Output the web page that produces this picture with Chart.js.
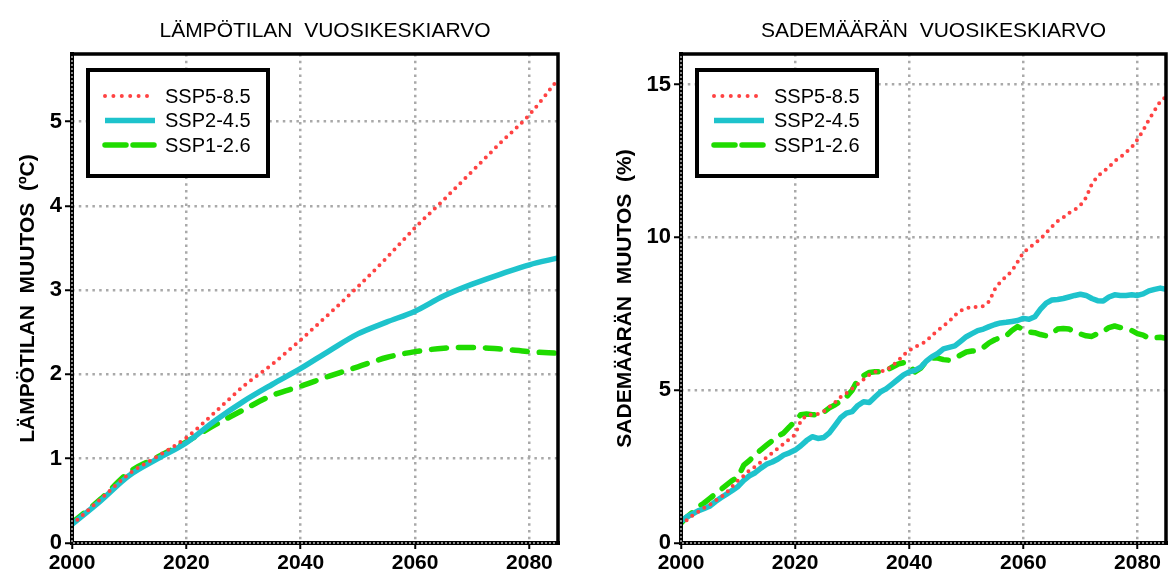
<!DOCTYPE html>
<html>
<head>
<meta charset="utf-8">
<script src="https://cdn.jsdelivr.net/npm/chart.js@4/dist/chart.umd.min.js"></script>
<style>
  html, body { margin: 0; padding: 0; background: #fff; }
  #wrap { display: flex; width: 1172px; height: 578px; }
  .panel { width: 586px; height: 578px; }
</style>
</head>
<body>
<div id="wrap">
  <div class="panel"><canvas id="tempChart" width="586" height="578"></canvas></div>
  <div class="panel"><canvas id="precChart" width="586" height="578"></canvas></div>
</div>
<script>
// Scenario names and colours
const scenarioLabels = ['SSP5-8.5', 'SSP2-4.5', 'SSP1-2.6'];
const scenarioColors = ['#ff4242', '#1ec3cc', '#1fdb00'];

// Annual mean temperature change (°C), every 5 years
const tempYears = [2000, 2005, 2010, 2015, 2020, 2025, 2030, 2035, 2040, 2045, 2050, 2055, 2060, 2065, 2070, 2075, 2080, 2085];
const tempSSP585 = [0.22, 0.52, 0.82, 1.03, 1.25, 1.55, 1.86, 2.12, 2.41, 2.72, 3.04, 3.38, 3.74, 4.07, 4.41, 4.75, 5.08, 5.50];
const tempSSP245 = [0.22, 0.50, 0.80, 1.00, 1.19, 1.45, 1.68, 1.88, 2.07, 2.28, 2.48, 2.62, 2.75, 2.93, 3.07, 3.19, 3.30, 3.38];
const tempSSP126 = [0.24, 0.52, 0.84, 1.02, 1.20, 1.40, 1.58, 1.75, 1.86, 1.98, 2.09, 2.20, 2.27, 2.31, 2.32, 2.30, 2.27, 2.25];

// Annual mean precipitation change (%), yearly 2000-2085
const precYears = Array.from({ length: 86 }, (_, i) => 2000 + i);
const precSSP585 = [
  0.60, 0.75, 0.90, 1.02, 1.14, 1.25, 1.38, 1.50, 1.65, 1.85,
  2.05, 2.20, 2.38, 2.50, 2.65, 2.80, 2.95, 3.10, 3.25, 3.40,
  3.55, 4.00, 4.18, 4.20, 4.22, 4.30, 4.45, 4.60, 4.78, 4.90,
  5.05, 5.20, 5.35, 5.50, 5.60, 5.62, 5.65, 5.80, 5.95, 6.15,
  6.30, 6.42, 6.50, 6.60, 6.80, 6.95, 7.10, 7.25, 7.45, 7.60,
  7.68, 7.72, 7.72, 7.75, 7.90, 8.30, 8.55, 8.72, 8.90, 9.20,
  9.50, 9.65, 9.80, 9.95, 10.15, 10.35, 10.53, 10.65, 10.80, 10.90,
  11.05, 11.30, 11.75, 12.00, 12.15, 12.30, 12.50, 12.62, 12.78, 12.95,
  13.20, 13.50, 13.85, 14.15, 14.45, 14.60
];
const precSSP245 = [
  0.71, 0.85, 0.95, 1.05, 1.12, 1.20, 1.35, 1.48, 1.60, 1.72,
  1.85, 2.05, 2.20, 2.30, 2.45, 2.58, 2.65, 2.75, 2.88, 2.95,
  3.04, 3.18, 3.35, 3.48, 3.42, 3.45, 3.60, 3.85, 4.10, 4.25,
  4.30, 4.50, 4.62, 4.60, 4.78, 4.95, 5.05, 5.20, 5.35, 5.50,
  5.60, 5.65, 5.75, 5.95, 6.10, 6.20, 6.35, 6.40, 6.45, 6.60,
  6.75, 6.85, 6.95, 7.00, 7.08, 7.15, 7.20, 7.22, 7.25, 7.28,
  7.35, 7.32, 7.40, 7.65, 7.85, 7.95, 7.97, 8.00, 8.05, 8.10,
  8.14, 8.10, 8.00, 7.93, 7.92, 8.05, 8.12, 8.10, 8.10, 8.12,
  8.10, 8.15, 8.25, 8.30, 8.34, 8.30
];
const precSSP126 = [
  0.65, 0.85, 1.00, 1.18, 1.30, 1.45, 1.60, 1.75, 1.90, 2.05,
  2.15, 2.55, 2.70, 2.88, 3.05, 3.20, 3.35, 3.50, 3.60, 3.80,
  3.98, 4.20, 4.22, 4.20, 4.18, 4.28, 4.42, 4.52, 4.65, 4.78,
  5.00, 5.35, 5.48, 5.58, 5.60, 5.60, 5.65, 5.75, 5.85, 5.90,
  5.82, 5.60, 5.72, 5.95, 6.05, 6.05, 6.00, 5.98, 6.05, 6.15,
  6.25, 6.28, 6.30, 6.40, 6.55, 6.65, 6.72, 6.78, 6.95, 7.08,
  6.98, 6.90, 6.88, 6.82, 6.78, 6.85, 7.00, 7.02, 7.00, 6.92,
  6.84, 6.78, 6.76, 6.85, 6.92, 7.05, 7.10, 7.05, 7.00, 6.95,
  6.85, 6.80, 6.70, 6.72, 6.73, 6.70
];

// Axis ticks
const yearTicks = [2000, 2020, 2040, 2060, 2080];
const tempTicks = [0, 1, 2, 3, 4, 5];
const precTicks = [0, 5, 10, 15];

const FONT = '"Liberation Sans", Arial, Helvetica, sans-serif';

function pairs(xs, ys) { return xs.map((x, i) => ({ x: x, y: ys[i] })); }

function makeDatasets(xs, series, smooth) {
  const styles = [
    { borderWidth: 4, borderDash: [0, 7.2], borderCapStyle: 'round', legendDash: [0, 8.4] },
    { borderWidth: 5.5, borderDash: [], borderCapStyle: 'butt', legendDash: [] },
    { borderWidth: 5.5, borderDash: [15, 12], borderCapStyle: 'round', legendDash: [21, 7] }
  ];
  return series.map((vals, i) => Object.assign({
    label: scenarioLabels[i],
    data: pairs(xs, vals),
    borderColor: scenarioColors[i],
    backgroundColor: scenarioColors[i],
    pointRadius: 0,
    fill: false,
    tension: smooth ? 0.4 : 0,
    cubicInterpolationMode: smooth ? 'monotone' : 'default',
    borderJoinStyle: 'round'
  }, styles[i]));
}

// Panel title above the plot area
const panelTitlePlugin = {
  id: 'panelTitle',
  afterDraw(chart, args, opts) {
    const { ctx, chartArea: a } = chart;
    ctx.save();
    ctx.font = '21px ' + FONT;
    ctx.fillStyle = '#000';
    ctx.textAlign = 'center';
    ctx.textBaseline = 'middle';
    ctx.fillText(opts.text, (a.left + a.right) / 2 + 10, 31);
    ctx.restore();
  }
};

// Boxed legend in the upper-left corner of the plot
const boxLegendPlugin = {
  id: 'boxLegend',
  afterDatasetsDraw(chart) {
    const { ctx, chartArea: a } = chart;
    const x0 = a.left + 16, y0 = a.top + 16, w = 180, h = 106;
    ctx.save();
    ctx.fillStyle = '#fff';
    ctx.fillRect(x0, y0, w, h);
    ctx.lineWidth = 4;
    ctx.strokeStyle = '#000';
    ctx.setLineDash([]);
    ctx.strokeRect(x0, y0, w, h);
    chart.data.datasets.forEach((ds, i) => {
      const y = y0 + 26 + i * 24.5;
      ctx.strokeStyle = ds.borderColor;
      ctx.lineWidth = ds.borderWidth;
      ctx.lineCap = ds.borderCapStyle;
      ctx.setLineDash(ds.legendDash);
      ctx.beginPath();
      ctx.moveTo(x0 + 17, y);
      ctx.lineTo(x0 + 67, y);
      ctx.stroke();
      ctx.setLineDash([]);
      ctx.fillStyle = '#000';
      ctx.font = '20px ' + FONT;
      ctx.textAlign = 'left';
      ctx.textBaseline = 'middle';
      ctx.fillText(ds.label, x0 + 77, y + 1);
    });
    ctx.restore();
  }
};

// Frame: solid top/right, dotted-black left/bottom axes
const framePlugin = {
  id: 'frame',
  afterDraw(chart) {
    const { ctx, chartArea: a } = chart;
    ctx.save();
    ctx.strokeStyle = '#000';
    ctx.lineWidth = 3.5;
    ctx.lineCap = 'square';
    ctx.beginPath();
    ctx.moveTo(a.left, a.top);
    ctx.lineTo(a.right, a.top);
    ctx.lineTo(a.right, a.bottom);
    ctx.stroke();
    ctx.lineWidth = 4;
    ctx.beginPath();
    ctx.moveTo(a.left, a.top);
    ctx.lineTo(a.left, a.bottom);
    ctx.lineTo(a.right, a.bottom);
    ctx.stroke();
    ctx.strokeStyle = '#b5b5b5';
    ctx.lineWidth = 1.5;
    ctx.lineCap = 'butt';
    ctx.setLineDash([2, 2]);
    ctx.beginPath();
    ctx.moveTo(a.left, a.top + 2);
    ctx.lineTo(a.left, a.bottom);
    ctx.lineTo(a.right - 2, a.bottom);
    ctx.stroke();
    ctx.restore();
  }
};

function makeChart(canvasId, cfg) {
  return new Chart(document.getElementById(canvasId), {
    type: 'line',
    data: { datasets: cfg.datasets },
    options: {
      responsive: false,
      animation: false,
      devicePixelRatio: 1,
      layout: { padding: { left: 0, top: 54, right: cfg.padRight, bottom: 0 } },
      plugins: {
        legend: { display: false },
        tooltip: { enabled: false },
        panelTitle: { text: cfg.title }
      },
      scales: {
        x: {
          type: 'linear',
          min: 2000,
          max: 2085,
          afterFit: s => { s.height = 35; },
          afterBuildTicks: s => { s.ticks = yearTicks.map(v => ({ value: v })); },
          ticks: {
            font: { family: FONT, size: 21, weight: 'bold' },
            color: '#000',
            padding: 2,
            maxRotation: 0,
            callback: v => String(v)
          },
          grid: {
            color: '#a9a9a9',
            lineWidth: 2.5,
            tickColor: '#000',
            tickWidth: 2,
            tickLength: 6,
            tickBorderDash: []
          },
          border: { display: false, dash: [2.5, 4.3] }
        },
        y: {
          type: 'linear',
          min: 0,
          max: cfg.yMax,
          afterFit: s => { s.width = cfg.yWidth; },
          afterBuildTicks: s => { s.ticks = cfg.yTicks.map(v => ({ value: v })); },
          ticks: {
            font: { family: FONT, size: 22, weight: 'bold' },
            color: '#000',
            padding: 3,
            callback: v => String(v)
          },
          grid: {
            color: '#a9a9a9',
            lineWidth: 2.5,
            tickColor: '#000',
            tickWidth: 2,
            tickLength: 7,
            tickBorderDash: []
          },
          border: { display: false, dash: [2.5, 4.3] },
          title: {
            display: true,
            text: cfg.yTitle,
            color: '#000',
            font: { family: FONT, size: 21, weight: 'bold', lineHeight: 1.2 },
            padding: { top: cfg.yTitlePad, bottom: 0 }
          }
        }
      }
    },
    plugins: [boxLegendPlugin, framePlugin, panelTitlePlugin]
  });
}

makeChart('tempChart', {
  title: 'LÄMPÖTILAN  VUOSIKESKIARVO',
  yTitle: 'LÄMPÖTILAN  MUUTOS  (ºC)',
  datasets: makeDatasets(tempYears, [tempSSP585, tempSSP245, tempSSP126], true),
  yMax: 5.8,
  yTicks: tempTicks,
  yWidth: 72,
  yTitlePad: 15.4,
  padRight: 28
});

makeChart('precChart', {
  title: 'SADEMÄÄRÄN  VUOSIKESKIARVO',
  yTitle: 'SADEMÄÄRÄN  MUUTOS  (%)',
  datasets: makeDatasets(precYears, [precSSP585, precSSP245, precSSP126], false),
  yMax: 16,
  yTicks: precTicks,
  yWidth: 95,
  yTitlePad: 26.4,
  padRight: 6
});
</script>
</body>
</html>
